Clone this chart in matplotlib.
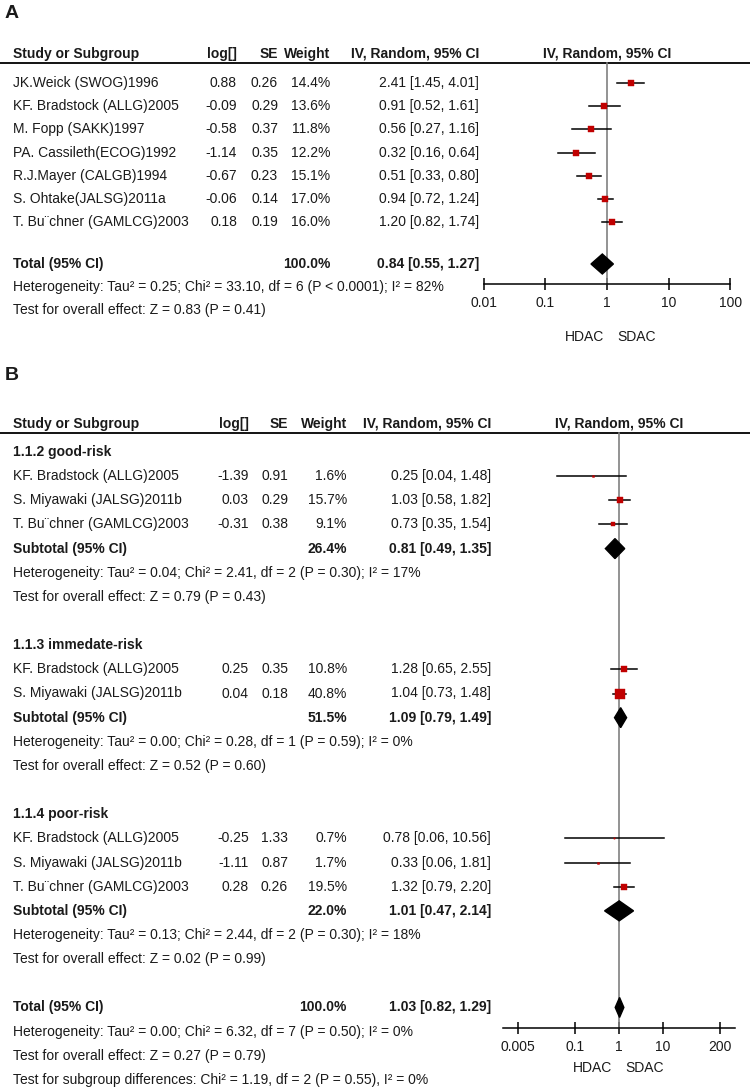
import matplotlib
matplotlib.use("Agg")
import matplotlib.pyplot as plt
from matplotlib import font_manager
from matplotlib.ticker import NullLocator


# вузький шрифт, як Arial Narrow на оригіналі
def pick_font():
    for name in ["Liberation Sans Narrow", "Liberation Sans", "DejaVu Sans"]:
        try:
            font_manager.findfont(name, fallback_to_default=False)
            return name
        except ValueError:
            pass
    return "DejaVu Sans"


FONT = pick_font()
plt.rcParams["font.family"] = [FONT, "DejaVu Sans"]
plt.rcParams["font.size"] = 10
TXT = "#1a1a1a"
RED = "#c00000"

# ---- Panel A data ----
studies_a = ["JK.Weick (SWOG)1996", "KF. Bradstock (ALLG)2005", "M. Fopp (SAKK)1997",
             "PA. Cassileth(ECOG)1992", "R.J.Mayer (CALGB)1994", "S. Ohtake(JALSG)2011a",
             "T. Bu\u00a8chner (GAMLCG)2003"]
loghr_a = [0.88, -0.09, -0.58, -1.14, -0.67, -0.06, 0.18]
se_a = [0.26, 0.29, 0.37, 0.35, 0.23, 0.14, 0.19]
weight_a = [14.4, 13.6, 11.8, 12.2, 15.1, 17.0, 16.0]
hr_a = [2.41, 0.91, 0.56, 0.32, 0.51, 0.94, 1.20]
lo_a = [1.45, 0.52, 0.27, 0.16, 0.33, 0.72, 0.82]
hi_a = [4.01, 1.61, 1.16, 0.64, 0.80, 1.24, 1.74]
total_a = [0.84, 0.55, 1.27]
het_a = "Heterogeneity: Tau\u00b2 = 0.25; Chi\u00b2 = 33.10, df = 6 (P < 0.0001); I\u00b2 = 82%"
test_a = "Test for overall effect: Z = 0.83 (P = 0.41)"
ticks_a = [0.01, 0.1, 1, 10, 100]
ticklabels_a = ["0.01", "0.1", "1", "10", "100"]

# ---- Panel B data ----
group_names = ["1.1.2 good-risk", "1.1.3 immedate-risk", "1.1.4 poor-risk"]
studies_b = [["KF. Bradstock (ALLG)2005", "S. Miyawaki (JALSG)2011b", "T. Bu\u00a8chner (GAMLCG)2003"],
             ["KF. Bradstock (ALLG)2005", "S. Miyawaki (JALSG)2011b"],
             ["KF. Bradstock (ALLG)2005", "S. Miyawaki (JALSG)2011b", "T. Bu\u00a8chner (GAMLCG)2003"]]
loghr_b = [[-1.39, 0.03, -0.31], [0.25, 0.04], [-0.25, -1.11, 0.28]]
se_b = [[0.91, 0.29, 0.38], [0.35, 0.18], [1.33, 0.87, 0.26]]
weight_b = [[1.6, 15.7, 9.1], [10.8, 40.8], [0.7, 1.7, 19.5]]
hr_b = [[0.25, 1.03, 0.73], [1.28, 1.04], [0.78, 0.33, 1.32]]
lo_b = [[0.04, 0.58, 0.35], [0.65, 0.73], [0.06, 0.06, 0.79]]
hi_b = [[1.48, 1.82, 1.54], [2.55, 1.48], [10.56, 1.81, 2.20]]
sub_weight = [26.4, 51.5, 22.0]
sub_est = [[0.81, 0.49, 1.35], [1.09, 0.79, 1.49], [1.01, 0.47, 2.14]]
sub_het = ["Heterogeneity: Tau\u00b2 = 0.04; Chi\u00b2 = 2.41, df = 2 (P = 0.30); I\u00b2 = 17%",
           "Heterogeneity: Tau\u00b2 = 0.00; Chi\u00b2 = 0.28, df = 1 (P = 0.59); I\u00b2 = 0%",
           "Heterogeneity: Tau\u00b2 = 0.13; Chi\u00b2 = 2.44, df = 2 (P = 0.30); I\u00b2 = 18%"]
sub_test = ["Test for overall effect: Z = 0.79 (P = 0.43)",
            "Test for overall effect: Z = 0.52 (P = 0.60)",
            "Test for overall effect: Z = 0.02 (P = 0.99)"]
total_b = [1.03, 0.82, 1.29]
het_b = "Heterogeneity: Tau\u00b2 = 0.00; Chi\u00b2 = 6.32, df = 7 (P = 0.50); I\u00b2 = 0%"
test_b = "Test for overall effect: Z = 0.27 (P = 0.79)"
diff_b = "Test for subgroup differences: Chi\u00b2 = 1.19, df = 2 (P = 0.55), I\u00b2 = 0%"
ticks_b = [0.005, 0.1, 1, 10, 200]
ticklabels_b = ["0.005", "0.1", "1", "10", "200"]

headers = ["Study or Subgroup", "log[]", "SE", "Weight", "IV, Random, 95% CI"]

W, H = 750, 1091
fig = plt.figure(figsize=(W / 100, H / 100), dpi=100)

# накладна вісь у пікселях для тексту
base = fig.add_axes([0, 0, 1, 1])
base.set_xlim(0, W)
base.set_ylim(H, 0)
base.axis("off")


def forest_axes(x0, x1, xlim, ticks, labels, axis_y):
    ax = fig.add_axes([x0 / W, 0, (x1 - x0) / W, 1])
    ax.patch.set_visible(False)
    ax.set_xscale("log")
    ax.set_xlim(*xlim)
    ax.set_ylim(H, 0)
    for s in ["top", "left", "right"]:
        ax.spines[s].set_visible(False)
    ax.spines["bottom"].set_position(("data", axis_y))
    ax.spines["bottom"].set_linewidth(1.1)
    ax.set_yticks([])
    ax.set_xticks(ticks)
    ax.set_xticklabels(labels)
    ax.xaxis.set_minor_locator(NullLocator())
    ax.tick_params(axis="x", direction="inout", length=9, width=1.1, pad=4,
                   labelsize=10, labelcolor=TXT)
    return ax


def header(y, cols, fx):
    base.plot([0, W], [y + 5, y + 5], color="black", lw=1.3)
    base.text(13, y, headers[0], fontweight="bold", color=TXT, va="baseline")
    for x, t in zip(cols, headers[1:]):
        base.text(x, y, t, fontweight="bold", color=TXT, ha="right", va="baseline")
    base.text(fx, y, headers[4], fontweight="bold", color=TXT, ha="center", va="baseline")


def study(ax, y, cols, name, lg, se, w, hr, lo, hi):
    base.text(13, y, name, color=TXT, va="center")
    base.text(cols[0], y, f"{lg:.2f}", color=TXT, ha="right", va="center")
    base.text(cols[1], y, f"{se:.2f}", color=TXT, ha="right", va="center")
    base.text(cols[2], y, f"{w:.1f}%", color=TXT, ha="right", va="center")
    base.text(cols[3], y, f"{hr:.2f} [{lo:.2f}, {hi:.2f}]", color=TXT, ha="right", va="center")
    ax.plot([lo, hi], [y, y], color="black", lw=1.1, zorder=3)
    ax.plot(hr, y, marker="s", ms=1.1 * w ** 0.5, color=RED, mec=RED, mew=0.3, zorder=4)


def pooled(ax, y, cols, label, w, est):
    base.text(13, y, label, color=TXT, fontweight="bold", va="center")
    base.text(cols[2], y, f"{w:.1f}%", color=TXT, fontweight="bold", ha="right", va="center")
    base.text(cols[3], y, f"{est[0]:.2f} [{est[1]:.2f}, {est[2]:.2f}]", color=TXT,
              fontweight="bold", ha="right", va="center")
    ax.fill([est[1], est[0], est[2], est[0]], [y, y - 10, y, y + 10], color="black", zorder=4)


# ================= A =================
base.text(5, 14, "A", fontsize=14, fontweight="bold", color=TXT, va="center")
cols_a = [237, 278, 330, 479]
axA = forest_axes(483.6, 730.4, (0.01, 100), ticks_a, ticklabels_a, 284)
header(58, cols_a, 607)
axA.plot([1, 1], [63, 284], color="#808080", lw=1.2, zorder=2)

step_a = 23.2
for i in range(len(studies_a)):
    study(axA, 83 + i * step_a, cols_a, studies_a[i], loghr_a[i], se_a[i], weight_a[i],
          hr_a[i], lo_a[i], hi_a[i])
pooled(axA, 264, cols_a, "Total (95% CI)", 100.0, total_a)
base.text(13, 287, het_a, color=TXT, va="center")
base.text(13, 310, test_a, color=TXT, va="center")
base.text(604, 337, "HDAC", color=TXT, ha="right", va="center")
base.text(617, 337, "SDAC", color=TXT, ha="left", va="center")

# ================= B =================
base.text(5, 376, "B", fontsize=14, fontweight="bold", color=TXT, va="center")
cols_b = [249, 288, 347, 491]
axB = forest_axes(503, 735, (10 ** (-116 / 44), 10 ** (116 / 44)), ticks_b, ticklabels_b, 1028)
header(428, cols_b, 619)
axB.plot([1, 1], [433, 1028], color="#808080", lw=1.2, zorder=2)

step_b = 24.15
row = 0
for g in range(len(group_names)):
    y = 452 + row * step_b
    base.text(13, y, group_names[g], color=TXT, fontweight="bold", va="center")
    row += 1
    for i in range(len(studies_b[g])):
        study(axB, 452 + row * step_b, cols_b, studies_b[g][i], loghr_b[g][i], se_b[g][i],
              weight_b[g][i], hr_b[g][i], lo_b[g][i], hi_b[g][i])
        row += 1
    pooled(axB, 452 + row * step_b, cols_b, "Subtotal (95% CI)", sub_weight[g], sub_est[g])
    row += 1
    base.text(13, 452 + row * step_b, sub_het[g], color=TXT, va="center")
    row += 1
    base.text(13, 452 + row * step_b, sub_test[g], color=TXT, va="center")
    row += 2

pooled(axB, 452 + row * step_b, cols_b, "Total (95% CI)", 100.0, total_b)
base.text(13, 452 + (row + 1) * step_b, het_b, color=TXT, va="center")
base.text(13, 452 + (row + 2) * step_b, test_b, color=TXT, va="center")
base.text(13, 452 + (row + 3) * step_b, diff_b, color=TXT, va="center")
base.text(612, 1068, "HDAC", color=TXT, ha="right", va="center")
base.text(625, 1068, "SDAC", color=TXT, ha="left", va="center")

fig.savefig("out.png", dpi=100, facecolor="white")
